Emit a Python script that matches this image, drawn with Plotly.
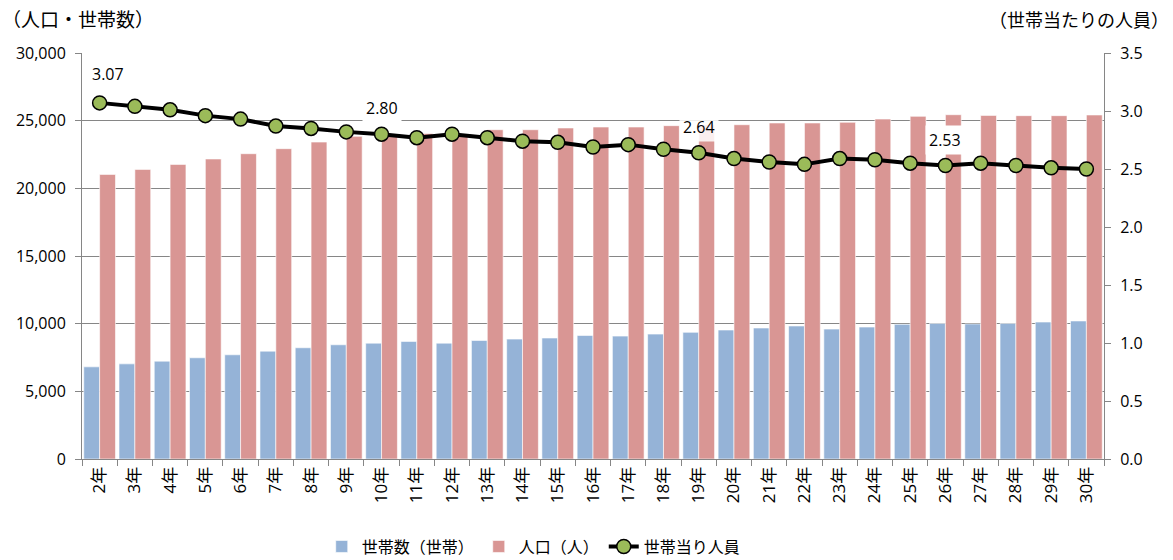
import plotly.graph_objects as go

years = [f"{i}年" for i in range(2, 31)]
households = [6810, 7030, 7230, 7480, 7700, 7970, 8220, 8440, 8560, 8690,
              8560, 8760, 8860, 8940, 9130, 9080, 9230, 9360, 9530, 9680,
              9830, 9600, 9750, 9950, 10020, 9980, 10020, 10120, 10200]
population = [21030, 21400, 21770, 22170, 22560, 22930, 23420, 23840, 23900, 24050,
              23950, 24330, 24330, 24460, 24530, 24530, 24630, 24700, 24700, 24830,
              24830, 24880, 25120, 25320, 25440, 25390, 25370, 25370, 25420]
per_household = [3.07, 3.04, 3.01, 2.96, 2.93, 2.87, 2.85, 2.82, 2.80, 2.77,
                 2.80, 2.77, 2.74, 2.73, 2.69, 2.71, 2.67, 2.64, 2.59, 2.56,
                 2.54, 2.59, 2.58, 2.55, 2.53, 2.55, 2.53, 2.51, 2.50]
labelled = {"2年": "3.07", "10年": "2.80", "19年": "2.64", "26年": "2.53"}

FONT = "Open Sans, Noto Sans CJK JP, sans-serif"
GRID = "#868686"

fig = go.Figure()
fig.add_trace(go.Bar(x=years, y=households, name="世帯数（世帯）",
                     marker=dict(color="#95B3D7", line=dict(color="#FFFFFF", width=0.6))))
fig.add_trace(go.Bar(x=years, y=population, name="人口（人）",
                     marker=dict(color="#D99694", line=dict(color="#FFFFFF", width=0.6))))
fig.add_trace(go.Scatter(x=years, y=per_household, name="世帯当り人員", yaxis="y2",
                         mode="lines+markers",
                         line=dict(color="#000000", width=4),
                         marker=dict(color="#9BBB59", size=14,
                                     line=dict(color="#000000", width=1.5))))

for yr, txt in labelled.items():
    i = years.index(yr)
    bg = "rgba(255,255,255,0.85)" if yr == "19年" else ("rgba(0,0,0,0)" if yr == "2年" else "#FFFFFF")
    fig.add_annotation(x=yr, y=per_household[i], yref="y2", text=txt,
                       showarrow=False, yshift=29 if yr == "2年" else 26,
                       xshift=8 if yr == "2年" else 0,
                       bgcolor=bg, borderpad=3,
                       font=dict(family=FONT, size=16, color="#000000"))

fig.add_annotation(xref="paper", yref="paper", x=-82/1022, y=(560-20-101)/406,
                   xanchor="left", yanchor="middle", text="（人口・世帯数）",
                   showarrow=False, font=dict(family=FONT, size=19, color="#000000"))
fig.add_annotation(xref="paper", yref="paper", x=(1171-82)/1022, y=(560-20-101)/406,
                   xanchor="right", yanchor="middle", text="（世帯当たりの人員）",
                   showarrow=False, font=dict(family=FONT, size=18, color="#000000"))

fig.update_layout(
    width=1173, height=560,
    margin=dict(l=82, r=69, t=53, b=101, autoexpand=False),
    paper_bgcolor="#FFFFFF", plot_bgcolor="#FFFFFF",
    font=dict(family=FONT, size=16, color="#000000"),
    barmode="group", bargap=0.1, bargroupgap=0.0,
    showlegend=True,
    legend=dict(orientation="h", x=0.442, y=0.024, xanchor="center", yanchor="middle",
                yref="container", font=dict(family=FONT, size=16), traceorder="normal"),
    xaxis=dict(type="category", range=[-0.5, len(years) - 0.5], tickangle=-90,
               ticks="outside", tickson="boundaries",
               ticklen=6, tickcolor=GRID, showline=True, linecolor=GRID, linewidth=1,
               showgrid=False, automargin=False, tickfont=dict(family=FONT, size=17)),
    yaxis=dict(range=[0, 30000], dtick=5000, tickformat=",d", showgrid=True,
               gridcolor=GRID, gridwidth=1, showline=True, linecolor=GRID,
               ticks="outside", ticklen=6, tickcolor=GRID, zeroline=False, automargin=False,
               ticklabelstandoff=6, tickfont=dict(family=FONT, size=16)),
    yaxis2=dict(range=[0, 3.5], dtick=0.5, tickformat=".1f", overlaying="y", side="right",
                showgrid=False, showline=True, linecolor=GRID, ticks="outside",
                ticklen=6, tickcolor=GRID, zeroline=False, ticklabelstandoff=6, automargin=False,
                tickfont=dict(family=FONT, size=16)),
)

fig.write_html("out.html", config={"displayModeBar": False},
               post_script="document.body.style.margin='0';")
